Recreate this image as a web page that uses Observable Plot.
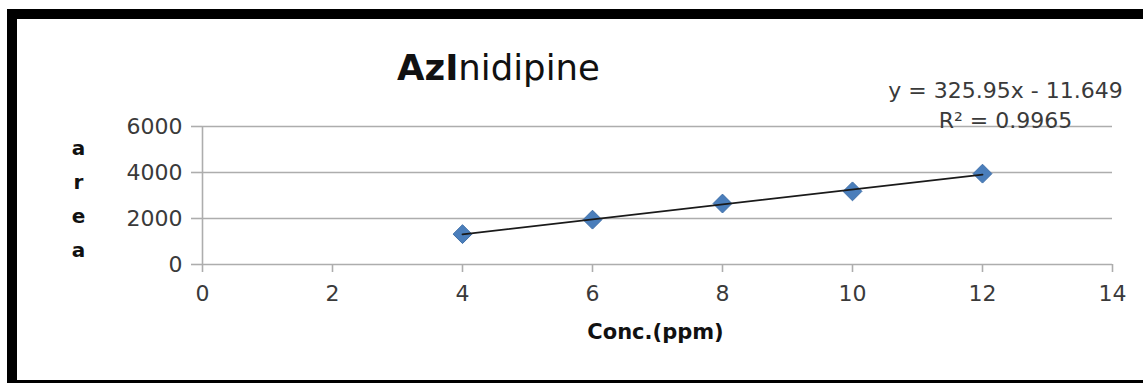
<!DOCTYPE html>
<html>
<head>
<meta charset="utf-8">
<script src="https://cdn.jsdelivr.net/npm/d3@7"></script>
<script src="https://cdn.jsdelivr.net/npm/@observablehq/plot@0.6"></script>
<style>
  html, body { margin: 0; padding: 0; background: #fff; width: 1143px; height: 383px; overflow: hidden; }
  #wrap { position: relative; width: 1143px; height: 383px; overflow: hidden; }
  #frame { position: absolute; left: 7px; top: 9px; width: 1200px; height: 381px; box-sizing: border-box; border: 10px solid #000; }
  #title { position: absolute; left: 397px; top: 50px; font-family: "DejaVu Sans", sans-serif; font-size: 35.5px; line-height: 35px; color: #111; white-space: nowrap; }
  #title b { font-weight: bold; }
  #chart { position: absolute; left: 0; top: 0; }
</style>
</head>
<body>
<div id="wrap">
<div id="frame"></div>
<div id="chart"></div>
<div id="title"><b>AzI</b>nidipine</div>
</div>
<script>
// Data
const conc = [4, 6, 8, 10, 12];
const area = [1320, 1950, 2650, 3180, 3950];
const xTicks = [0, 2, 4, 6, 8, 10, 12, 14];
const yTicks = [0, 2000, 4000, 6000];
const equationText = "y = 325.95x - 11.649\nR² = 0.9965";
const yLabel = "a\nr\ne\na";
const xLabel = "Conc.(ppm)";

const data = conc.map((c, i) => ({conc: c, area: area[i]}));
const grid = "#adadad";
const font = "DejaVu Sans, sans-serif";

const chart = Plot.plot({
  width: 1143,
  height: 383,
  marginLeft: 202,
  marginRight: 31,
  marginTop: 126,
  marginBottom: 119,
  style: {fontFamily: font, background: "transparent", overflow: "visible"},
  x: {domain: [0, 14]},
  y: {domain: [0, 6000]},
  marks: [
    Plot.gridY(yTicks, {stroke: grid, strokeOpacity: 1, strokeWidth: 1.6}),
    Plot.ruleX([0], {y1: 0, y2: 6000, stroke: grid, strokeWidth: 1.6}),
    Plot.axisY(yTicks, {tickSize: 11, tickPadding: 9, stroke: grid, strokeWidth: 1.6, fill: "#3a3a3a", fontSize: 22, label: null, tickFormat: d => String(d)}),
    Plot.axisX(xTicks, {tickSize: 8, tickPadding: 13, stroke: grid, strokeWidth: 1.6, fill: "#3a3a3a", fontSize: 22, label: null, tickFormat: d => String(d)}),
    Plot.dot(data, {x: "conc", y: "area", symbol: "diamond2", r: 8.5, fill: "#4a7ebb", stroke: "#3f6fa8", strokeWidth: 1}),
    Plot.linearRegressionY(data, {x: "conc", y: "area", ci: 0, stroke: "#1a1a1a", strokeWidth: 1.8}),
    Plot.text([yLabel], {frameAnchor: "left", dx: -124, dy: 0, fontSize: 20, fontWeight: "bold", fill: "#111", lineHeight: 1.7, textAnchor: "middle", lineAnchor: "middle"}),
    Plot.text([xLabel], {frameAnchor: "bottom", dx: -2, dy: 68, fontSize: 21, fontWeight: "bold", fill: "#111", lineAnchor: "middle"}),
    Plot.text([equationText], {frameAnchor: "top-right", dx: -107, dy: -23, fontSize: 22, fill: "#3a3a3a", lineHeight: 1.36, textAnchor: "middle", lineAnchor: "middle"})
  ]
});
document.getElementById("chart").appendChild(chart);
</script>
</body>
</html>
